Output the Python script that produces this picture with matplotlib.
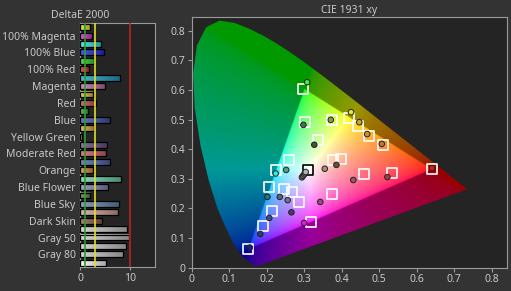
import numpy as np
import matplotlib.pyplot as plt
from matplotlib.patches import Polygon
from matplotlib.path import Path
from matplotlib.colors import LinearSegmentedColormap, to_rgb
from matplotlib.ticker import FuncFormatter

plt.rcParams['font.family'] = ['Noto Sans', 'DejaVu Sans']

# ---- DeltaE 2000 bars (top to bottom) ----
bar_names = ["100% Yellow", "100% Magenta", "100% Cyan", "100% Blue", "100% Green", "100% Red",
             "Cyan", "Magenta", "Yellow", "Red", "Green", "Blue",
             "Orange Yellow", "Yellow Green", "Purple", "Moderate Red", "Purplish Blue", "Orange",
             "Bluish Green", "Blue Flower", "Foliage", "Blue Sky", "Light Skin", "Dark Skin",
             "Gray 35", "Gray 50", "Gray 65", "Gray 80", "Gray 100"]
bar_values = [2.0, 2.3, 4.1, 4.7, 2.8, 1.7,
              7.9, 4.9, 2.5, 3.1, 1.5, 5.9,
              2.7, 0.3, 5.3, 5.2, 5.9, 2.5,
              8.1, 5.5, 2.0, 7.7, 7.5, 4.3,
              9.3, 9.7, 9.1, 8.5, 5.1]
bar_colors = ["#e0e020", "#e030e0", "#30e0e0", "#2030e0", "#30d030", "#e03030",
              "#20a0c0", "#c070a8", "#e0c040", "#c85058", "#40b040", "#4058a8",
              "#e0a840", "#a0c050", "#705088", "#d06070", "#5068b0", "#e08838",
              "#70d0b0", "#8888c0", "#608048", "#6888b0", "#d0a090", "#906050",
              "#c8c8c8", "#c8c8c8", "#c8c8c8", "#c8c8c8", "#f8f8f8"]

# ---- CIE 1931 xy ----
locus_x = [0.1741, 0.1733, 0.1714, 0.1689, 0.1644, 0.1566, 0.1510, 0.1440, 0.1355, 0.1241,
           0.1096, 0.0913, 0.0687, 0.0454, 0.0235, 0.0082, 0.0039, 0.0139, 0.0389, 0.0743,
           0.1142, 0.1547, 0.1929, 0.2296, 0.2658, 0.3016, 0.3373, 0.3731, 0.4087, 0.4441,
           0.4788, 0.5125, 0.5448, 0.5752, 0.6029, 0.6270, 0.6482, 0.6658, 0.6915, 0.7079,
           0.7190, 0.7260, 0.7334, 0.7347]
locus_y = [0.0050, 0.0048, 0.0051, 0.0069, 0.0109, 0.0177, 0.0227, 0.0297, 0.0399, 0.0578,
           0.0868, 0.1327, 0.2007, 0.2950, 0.4127, 0.5384, 0.6548, 0.7502, 0.8120, 0.8338,
           0.8262, 0.8059, 0.7816, 0.7543, 0.7243, 0.6923, 0.6589, 0.6245, 0.5896, 0.5547,
           0.5202, 0.4866, 0.4544, 0.4242, 0.3965, 0.3725, 0.3514, 0.3340, 0.3083, 0.2920,
           0.2809, 0.2740, 0.2666, 0.2653]
gamut_x = [0.64, 0.30, 0.15]
gamut_y = [0.33, 0.60, 0.06]

# targets and measurements, same order as bars 0..23
target_x = [0.419, 0.318, 0.224, 0.149, 0.298, 0.640, 0.207, 0.373, 0.444, 0.535, 0.302, 0.191,
            0.474, 0.375, 0.287, 0.459, 0.215, 0.511, 0.260, 0.267, 0.338, 0.247, 0.376, 0.399]
target_y = [0.506, 0.154, 0.329, 0.062, 0.604, 0.333, 0.273, 0.249, 0.478, 0.318, 0.492, 0.141,
            0.443, 0.499, 0.222, 0.316, 0.193, 0.413, 0.365, 0.255, 0.432, 0.266, 0.363, 0.367]
meas_x = [0.425, 0.300, 0.224, 0.155, 0.308, 0.641, 0.202, 0.343, 0.447, 0.522, 0.298, 0.183,
          0.468, 0.371, 0.266, 0.431, 0.207, 0.507, 0.252, 0.256, 0.327, 0.235, 0.355, 0.386]
meas_y = [0.525, 0.151, 0.318, 0.068, 0.626, 0.336, 0.239, 0.222, 0.491, 0.306, 0.482, 0.114,
          0.451, 0.499, 0.187, 0.296, 0.168, 0.418, 0.330, 0.228, 0.415, 0.239, 0.334, 0.347]
meas_colors = ["#e8e830", "#e020d0", "#30e8e8", "#1a1a90", "#40e840", "#e01818",
               "#1c7a88", "#9c4c7c", "#d0a830", "#9c3c4c", "#4c6c4c", "#2c3c74",
               "#d09030", "#909850", "#4c3868", "#a05060", "#3c4c88", "#c07830",
               "#5c9c8c", "#7070a0", "#48503c", "#566480", "#b08878", "#6c4c40"]
gray_x = [0.294, 0.297, 0.300, 0.302, 0.304]
gray_y = [0.305, 0.310, 0.315, 0.319, 0.323]
gray_colors = ["#6a6a6a", "#7c7c7c", "#8e8e8e", "#a0a0a0", "#b4b4b4"]
white_x, white_y = 0.311, 0.331

fig_bg = "#333333"
ax_bg = "#242424"
txt = "#c8c8c8"
spine = "#9a9a9a"

fig = plt.figure(figsize=(5.11, 2.91), dpi=100, facecolor=fig_bg)

# ---------------- left: DeltaE bars ----------------
ax1 = fig.add_axes([0.1566, 0.0825, 0.1468, 0.8385], facecolor=ax_bg)
n = len(bar_values)
for i, (v, c) in enumerate(zip(bar_values, bar_colors)):
    rgb = np.array(to_rgb(c))
    cmap = LinearSegmentedColormap.from_list("g", [rgb * 0.8 + 0.2, rgb * 0.68])
    ax1.imshow(np.linspace(0, 1, 64).reshape(1, -1), cmap=cmap, aspect="auto",
               extent=(0, v, i + 0.35, i - 0.35), zorder=2)
ax1.barh(range(n), bar_values, height=0.7, fill=False, edgecolor="black", linewidth=0.9, zorder=3)
ax1.axvline(1, color="#2e9a2e", lw=1.2, zorder=4)
ax1.axvline(3, color="#e0dc30", lw=1.2, zorder=4)
ax1.axvline(10, color="#b82424", lw=1.2, zorder=4)
ax1.set_xlim(0, 15)
ax1.set_ylim(n - 0.5, -0.5)
ax1.set_xticks([0, 10])
ax1.set_yticks(range(1, n, 2))
ax1.set_yticklabels(bar_names[1::2])
ax1.tick_params(axis="y", length=0, pad=3, colors=txt, labelsize=7.5)
ax1.tick_params(axis="x", length=2, pad=2, colors=spine, labelcolor=txt, labelsize=7.5)
for s in ax1.spines.values():
    s.set_color(spine)
    s.set_linewidth(0.8)
fig.text(0.157, 0.948, "DeltaE 2000", ha="center", va="center", color=txt, fontsize=7.5)

# ---------------- right: CIE 1931 xy ----------------
ax2 = fig.add_axes([0.3751, 0.080, 0.6164, 0.8605], facecolor=ax_bg)
gx = np.linspace(0, 0.84, 600)
gy = np.linspace(0.001, 0.845, 600)
X, Y = np.meshgrid(gx, gy)
xyz = np.stack([X / Y, np.ones_like(X), (1 - X - Y) / Y], axis=-1)
M = np.array([[3.2406, -1.5372, -0.4986],
              [-0.9689, 1.8758, 0.0415],
              [0.0557, -0.2040, 1.0570]])
rgb = np.clip(xyz @ M.T, 0, None)
rgb = rgb / np.maximum(rgb.max(axis=-1, keepdims=True), 1e-6)
rgb = rgb ** (1 / 2.2)
tri = Path(np.column_stack([gamut_x, gamut_y]))
inside = tri.contains_points(np.column_stack([X.ravel(), Y.ravel()])).reshape(X.shape)
rgb[~inside] *= 0.6
im = ax2.imshow(rgb, extent=(0, 0.84, 0.001, 0.845), origin="lower", aspect="auto",
                interpolation="bilinear", zorder=1)
locus = Polygon(np.column_stack([locus_x, locus_y]), closed=True, facecolor="none",
                edgecolor="none", transform=ax2.transData)
ax2.add_patch(locus)
im.set_clip_path(locus)

ax2.scatter(target_x, target_y, marker="s", s=52, facecolors="none", edgecolors="white",
            linewidths=1.2, zorder=3)
ax2.scatter([white_x], [white_y], marker="s", s=52, facecolors="none", edgecolors="black",
            linewidths=1.2, zorder=3)
ax2.scatter(gray_x, gray_y, s=16, c=gray_colors, edgecolors="#222222", linewidths=0.7, zorder=4)
ax2.scatter(meas_x, meas_y, s=16, c=meas_colors, edgecolors="#222222", linewidths=0.7, zorder=4)

ax2.set_xlim(0, 0.84)
ax2.set_ylim(0, 0.845)
ax2.set_xticks(np.arange(0, 0.81, 0.1))
ax2.set_yticks(np.arange(0, 0.81, 0.1))
fmt = FuncFormatter(lambda v, p: f"{v:g}")
ax2.xaxis.set_major_formatter(fmt)
ax2.yaxis.set_major_formatter(fmt)
ax2.tick_params(length=3, pad=1.5, colors=spine, labelcolor=txt, labelsize=7.5)
for s in ax2.spines.values():
    s.set_color(spine)
    s.set_linewidth(0.8)
ax2.set_title("CIE 1931 xy", color=txt, fontsize=7.5, pad=3)

fig.savefig("out.png", dpi=100, facecolor=fig_bg)
